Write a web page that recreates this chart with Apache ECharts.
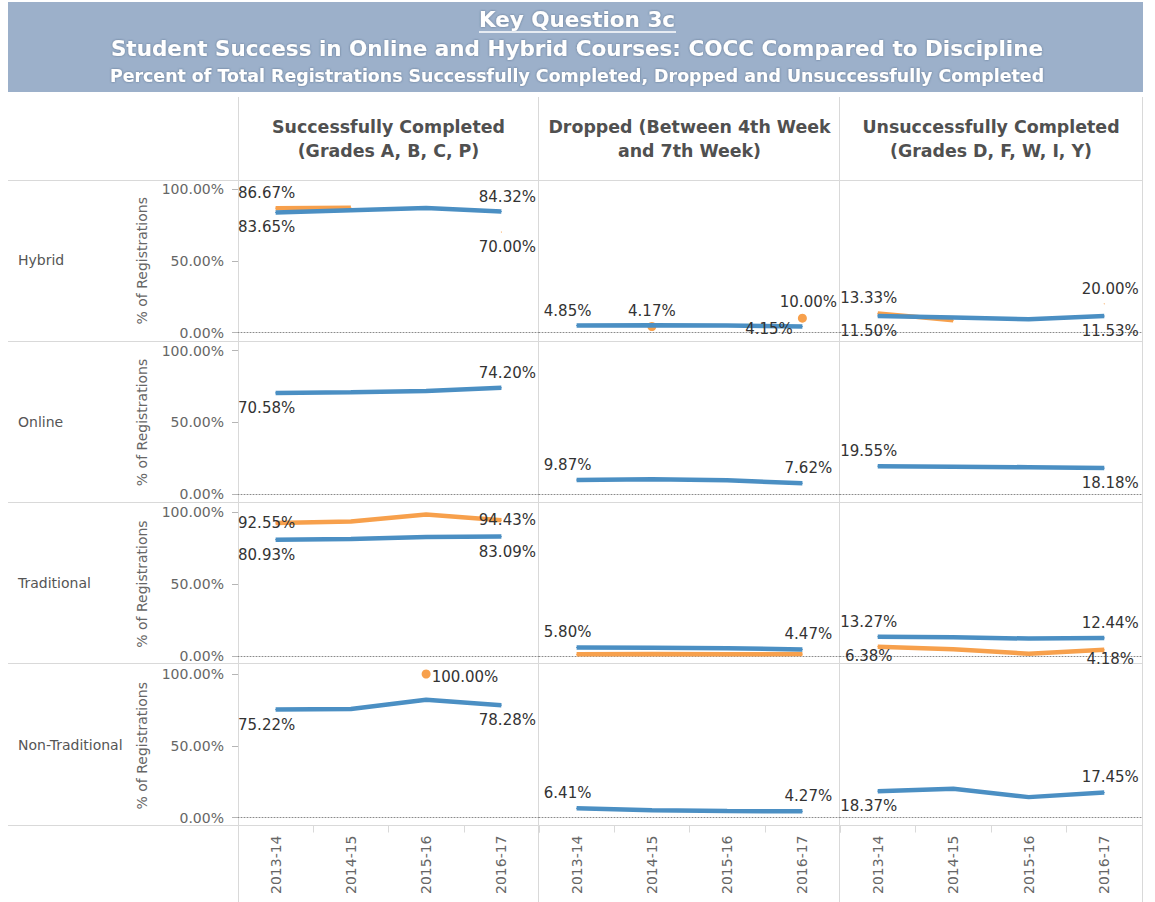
<!DOCTYPE html>
<html><head><meta charset="utf-8">
<script src="https://cdn.jsdelivr.net/npm/echarts@6/dist/echarts.min.js"></script>
<style>html,body{margin:0;padding:0;background:#fff}#c{width:1155px;height:902px}</style>
</head><body><div id="c"></div>
<script>
// ---------------- data ----------------
const categories = ['2013-14', '2014-15', '2015-16', '2016-17'];
const rowNames = ['Hybrid', 'Online', 'Traditional', 'Non-Traditional'];
const colTitles = [
  ['Successfully Completed', '(Grades A, B, C, P)'],
  ['Dropped (Between 4th Week', 'and 7th Week)'],
  ['Unsuccessfully Completed', '(Grades D, F, W, I, Y)']
];
const yTicks = [0, 50, 100];

// Blue line (Discipline): per row, [Successfully, Dropped, Unsuccessfully]
const blueHybrid         = [[83.65, 85.2, 86.8, 84.32], [4.85, 5.0, 4.8, 4.15], [11.50, 10.5, 9.2, 11.53]];
const blueOnline         = [[70.58, 71.0, 72.0, 74.20], [9.87, 10.4, 9.7, 7.62], [19.55, 19.2, 18.8, 18.18]];
const blueTraditional    = [[80.93, 81.4, 82.8, 83.09], [5.80, 5.6, 5.2, 4.47], [13.27, 13.0, 12.0, 12.44]];
const blueNonTraditional = [[75.22, 75.6, 82.0, 78.28], [6.41, 5.0, 4.5, 4.27], [18.37, 20.0, 14.2, 17.45]];

// Orange line (COCC)
const orangeHybrid         = [[86.67, 87.0, null, 70.00], [null, 4.17, null, 10.00], [13.33, 8.5, null, 20.00]];
const orangeOnline         = [[], [], []];
const orangeTraditional    = [[92.55, 93.6, 98.5, 94.43], [1.0, 1.3, 1.1, 1.2], [6.38, 4.5, 1.5, 4.18]];
const orangeNonTraditional = [[null, null, 100.00, null], [], []];

// ---------------- presentation ----------------
const blue = [blueHybrid, blueOnline, blueTraditional, blueNonTraditional];
const orange = [orangeHybrid, orangeOnline, orangeTraditional, orangeNonTraditional];

const labelPlacement = {
  '0,0': { b: [[0, 'bottom'], [3, 'top']], o: [[0, 'top'], [3, 'bottom']] },
  '0,1': { b: [[0, 'top'], [3, 'left']], o: [[1, 'top'], [3, 'top']] },
  '0,2': { b: [[0, 'bottom'], [3, 'bottom']], o: [[0, 'top'], [3, 'top']] },
  '1,0': { b: [[0, 'bottom'], [3, 'top']], o: [] },
  '1,1': { b: [[0, 'top'], [3, 'top']], o: [] },
  '1,2': { b: [[0, 'top'], [3, 'bottom']], o: [] },
  '2,0': { b: [[0, 'bottom'], [3, 'bottom']], o: [[0, 'inside'], [3, 'inside']] },
  '2,1': { b: [[0, 'top'], [3, 'top']], o: [] },
  '2,2': { b: [[0, 'top'], [3, 'top']], o: [[0, 'bottom'], [3, 'bottom']] },
  '3,0': { b: [[0, 'bottom'], [3, 'bottom']], o: [[2, 'right']] },
  '3,1': { b: [[0, 'top'], [3, 'top']], o: [] },
  '3,2': { b: [[0, 'bottom'], [3, 'top']], o: [] }
};
// labels pushed back up inside the pane (near the zero line)
const clampedLabels = ['2,2,o,0', '2,2,o,3'];
const visibleDots = ['0,1,o,1', '0,1,o,3', '3,0,o,2'];

const BLUE = '#4b8fc3';
const ORANGE = '#f7a04c';
const FONT = '"DejaVu Sans", Verdana, sans-serif';
const colLeft = [238, 539, 840];
const colW = [301, 301, 302];
const rowTop = [189, 350.7, 512.3, 674];
const plotH = 143.5;
const SEP = '#d9d9d9';

const grids = [], xAxes = [], yAxes = [], series = [];

function buildItems(values, r, c, key) {
  const spec = labelPlacement[r + ',' + c][key];
  return categories.map((cat, i) => {
    const v = values[i];
    if (v === null || v === undefined) return '-';
    const id = r + ',' + c + ',' + key + ',' + i;
    const it = { value: v };
    const s = spec.find(p => p[0] === i);
    if (s) {
      const pos = s[1];
      let dx = 0, dy = 0;
      if (i === 0 && pos !== 'right') dx = -9;
      if (i === 3 && pos !== 'left') dx = 6;
      if (pos === 'left') dy = 2;
      if (pos === 'right') dy = 3;
      if (clampedLabels.indexOf(id) >= 0) dy = -6;
      it.label = { show: true, position: pos, offset: [dx, dy], distance: pos === 'right' ? 1 : (pos === 'left' ? 9 : 7) };
    }
    if (visibleDots.indexOf(id) >= 0) {
      it.symbolSize = 9;
      if (it.label) it.label.distance = pos2dist(it.label.position);
    }
    return it;
  });
}
function pos2dist(p) { return p === 'right' ? 1 : 4; }

let g = 0;
for (let r = 0; r < 4; r++) {
  for (let c = 0; c < 3; c++) {
    grids.push({ left: colLeft[c], top: rowTop[r], width: colW[c], height: plotH, containLabel: false });
    xAxes.push({
      type: 'category', gridIndex: g, data: categories, boundaryGap: true,
      axisLine: { onZero: true, lineStyle: { color: '#8a8a8a', type: [1, 2], width: 1 } },
      axisTick: { show: false }, axisLabel: { show: false }, splitLine: { show: false }
    });
    const ya = {
      type: 'value', gridIndex: g, min: yTicks[0], max: yTicks[yTicks.length - 1], interval: 50,
      splitLine: { show: false }
    };
    if (c === 0) {
      Object.assign(ya, {
        axisLine: { show: true, lineStyle: { color: SEP } },
        axisTick: { show: true, length: 6, lineStyle: { color: '#b5b5b5' } },
        axisLabel: { formatter: v => v.toFixed(2) + '%', fontSize: 14, color: '#666', fontFamily: FONT, margin: 14 },
        name: '% of Registrations', nameLocation: 'middle', nameGap: 89,
        nameTextStyle: { fontSize: 14, color: '#666', fontFamily: FONT }
      });
    } else {
      ya.show = false;
    }
    yAxes.push(ya);

    const common = {
      type: 'line', xAxisIndex: g, yAxisIndex: g, symbol: 'circle', symbolSize: 1,
      showSymbol: true, showAllSymbol: true, animation: false, emphasis: { disabled: true },
      z: 3,
      label: { show: false, fontSize: 15, color: '#333', fontFamily: FONT, formatter: p => p.value.toFixed(2) + '%' }
    };
    series.push(Object.assign({}, common, {
      name: 'COCC', color: ORANGE, itemStyle: { color: ORANGE }, lineStyle: { width: 4.5, color: ORANGE },
      data: buildItems(orange[r][c], r, c, 'o')
    }));
    series.push(Object.assign({}, common, {
      name: 'Discipline', color: BLUE, itemStyle: { color: BLUE }, lineStyle: { width: 4.5, color: BLUE },
      data: buildItems(blue[r][c], r, c, 'b'), z: 4
    }));
    g++;
  }
}
// bottom category axes (tick labels)
for (let c = 0; c < 3; c++) {
  xAxes.push({
    type: 'category', gridIndex: 9 + c, data: categories, boundaryGap: true, position: 'bottom', offset: 8,
    axisLine: { show: true, onZero: false, lineStyle: { color: SEP } },
    axisTick: { show: true, length: 7, lineStyle: { color: SEP } },
    axisLabel: { rotate: 90, margin: 10, fontSize: 14, color: '#666', fontFamily: FONT },
    splitLine: { show: false }
  });
}

// ---------------- decoration (table frame & titles) ----------------
const graphics = [];
graphics.push({ type: 'rect', shape: { x: 8, y: 2, width: 1135, height: 90 }, style: { fill: '#9cb0ca' }, z: -1 });
const tShadow = { textShadowColor: 'rgba(40,60,90,0.55)', textShadowBlur: 2 };
graphics.push({ type: 'text', style: Object.assign({ text: 'Key Question 3c', x: 577, y: 19, align: 'center', verticalAlign: 'middle', fill: '#fff', fontSize: 21.5, fontWeight: 'bold', fontFamily: FONT }, tShadow) });
graphics.push({ type: 'line', shape: { x1: 479, y1: 32, x2: 676, y2: 32 }, style: { stroke: '#fff', lineWidth: 1.5 } });
graphics.push({ type: 'text', style: Object.assign({ text: 'Student Success in Online and Hybrid Courses: COCC Compared to Discipline', x: 577, y: 48, align: 'center', verticalAlign: 'middle', fill: '#fff', fontSize: 21.5, fontWeight: 'bold', fontFamily: FONT }, tShadow) });
graphics.push({ type: 'text', style: Object.assign({ text: 'Percent of Total Registrations Successfully Completed, Dropped and Unsuccessfully Completed', x: 577, y: 76, align: 'center', verticalAlign: 'middle', fill: '#fff', fontSize: 17.4, fontWeight: 'bold', fontFamily: FONT }, tShadow) });

for (let c = 0; c < 3; c++) {
  const cx = colLeft[c] + colW[c] / 2;
  colTitles[c].forEach((t, k) => {
    graphics.push({ type: 'text', style: { text: t, x: cx, y: 127 + k * 24, align: 'center', verticalAlign: 'middle', fill: '#505050', fontSize: 17.4, fontWeight: 'bold', fontFamily: FONT } });
  });
}
rowNames.forEach((n, r) => {
  graphics.push({ type: 'text', style: { text: n, x: 18, y: rowTop[r] + 71, align: 'left', verticalAlign: 'middle', fill: '#555', fontSize: 14, fontFamily: FONT } });
});
[238.5, 538.5, 839.5, 1142.5].forEach(x => {
  graphics.push({ type: 'line', shape: { x1: x, y1: 97, x2: x, y2: 902 }, style: { stroke: SEP, lineWidth: 1 }, z: -1 });
});
[180.5, 341.5, 502.5, 663.5, 825.5].forEach(y => {
  graphics.push({ type: 'line', shape: { x1: 8, y1: y, x2: 1142, y2: y }, style: { stroke: SEP, lineWidth: 1 }, z: -1 });
});

const chart = echarts.init(document.getElementById('c'), null, { renderer: 'svg', width: 1155, height: 902 });
chart.setOption({
  backgroundColor: '#fff',
  animation: false,
  grid: grids, xAxis: xAxes, yAxis: yAxes, series: series,
  graphic: { elements: graphics }
});
</script></body></html>
